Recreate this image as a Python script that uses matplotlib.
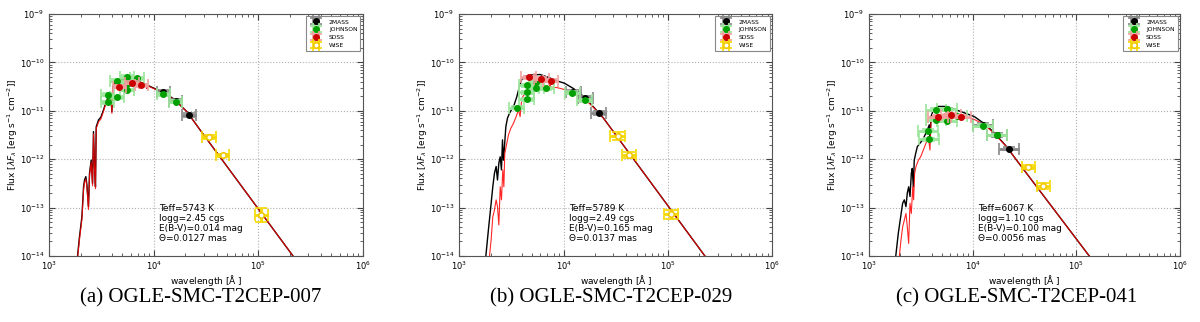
import numpy as np
import matplotlib.pyplot as plt

plt.rcParams['font.family'] = ['DejaVu Sans']
plt.rcParams['mathtext.fontset'] = 'dejavusans'

# ---- model SEDs: log10(wavelength [A]) and log10(flux) ----
a_wl = [3.270, 3.289, 3.312, 3.328, 3.337, 3.350, 3.360, 3.375, 3.385, 3.401, 3.414,
        3.423, 3.433, 3.442, 3.449, 3.471, 3.494, 3.519, 3.541, 3.567, 3.589, 3.599,
        3.608, 3.631, 3.679, 3.742, 3.822, 3.886, 3.930, 3.934, 3.938, 4.008, 4.094,
        4.190, 4.318, 4.445, 5.333]
a_blk = [-14.01, -13.60, -13.19, -12.57, -12.43, -12.36, -12.53, -12.98, -12.29, -12.02, -12.50,
         -11.43, -12.15, -12.57, -11.33, -11.19, -11.13, -10.98, -10.83, -10.71, -10.64, -11.02,
         -10.50, -10.40, -10.35, -10.34, -10.37, -10.42, -10.46, -10.53, -10.47, -10.54, -10.63,
         -10.75, -11.02, -11.40, -14.00]
a_red = [-14.05, -13.66, -13.25, -12.63, -12.48, -12.41, -12.58, -13.04, -12.34, -12.06, -12.55,
         -11.48, -12.19, -12.61, -11.37, -11.23, -11.17, -11.01, -10.86, -10.74, -10.67, -11.05,
         -10.53, -10.42, -10.37, -10.36, -10.38, -10.43, -10.47, -10.54, -10.48, -10.55, -10.64,
         -10.76, -11.02, -11.40, -14.00]

b_wl_blk = [3.254, 3.279, 3.302, 3.321, 3.337, 3.353, 3.366, 3.379, 3.392, 3.404, 3.414,
            3.423, 3.433, 3.446, 3.462, 3.481, 3.503, 3.525, 3.551, 3.576, 3.599, 3.631,
            3.694, 3.774, 3.854, 3.934, 4.008, 4.094, 4.190, 4.286, 4.381, 5.354]
b_blk = [-14.01, -13.46, -12.98, -12.57, -12.29, -12.15, -12.43, -12.08, -11.95, -12.22, -11.60,
         -12.02, -11.74, -11.33, -11.15, -11.05, -10.97, -10.88, -10.71, -10.50, -10.35, -10.28,
         -10.26, -10.25, -10.31, -10.38, -10.43, -10.54, -10.70, -10.92, -11.15, -14.00]
b_wl_red = [3.289, 3.305, 3.321, 3.334, 3.353, 3.366, 3.379, 3.392, 3.404, 3.417, 3.427,
            3.436, 3.449, 3.471, 3.494, 3.519, 3.545, 3.567, 3.583, 3.599, 3.631, 3.694,
            3.774, 3.838, 3.866, 3.870, 3.874, 3.934, 4.008, 4.094, 4.190, 4.286, 4.381, 5.354]
b_red = [-14.01, -13.67, -13.19, -13.08, -12.84, -12.98, -13.36, -12.57, -12.84, -12.22, -12.57,
         -11.88, -11.74, -11.50, -11.36, -11.26, -11.12, -10.98, -11.12, -10.74, -10.64, -10.56,
         -10.50, -10.52, -10.51, -10.44, -10.51, -10.52, -10.56, -10.63, -10.73, -10.93, -11.15, -14.00]

c_wl_blk = [3.255, 3.280, 3.303, 3.322, 3.338, 3.354, 3.367, 3.380, 3.393, 3.406, 3.415,
            3.425, 3.434, 3.448, 3.464, 3.489, 3.515, 3.538, 3.560, 3.579, 3.586, 3.596,
            3.612, 3.634, 3.666, 3.747, 3.827, 3.940, 4.014, 4.100, 4.197, 4.325, 4.422, 5.124]
c_blk = [-14.01, -13.53, -13.19, -12.91, -12.84, -12.98, -12.70, -12.57, -12.77, -12.29, -12.19,
         -12.57, -12.02, -11.88, -11.74, -11.67, -11.60, -11.50, -11.40, -11.29, -11.60, -11.12,
         -11.02, -10.95, -10.91, -10.91, -10.97, -11.06, -11.12, -11.25, -11.43, -11.74, -12.02, -14.00]
c_wl_red = [3.290, 3.306, 3.322, 3.338, 3.354, 3.367, 3.380, 3.393, 3.406, 3.419, 3.428,
            3.438, 3.451, 3.474, 3.496, 3.522, 3.547, 3.570, 3.586, 3.596, 3.618, 3.666,
            3.747, 3.827, 3.940, 4.014, 4.100, 4.197, 4.325, 4.422, 5.124]
c_red = [-14.01, -13.67, -13.40, -13.26, -13.12, -13.40, -13.74, -12.91, -13.12, -12.57, -12.84,
         -12.29, -12.15, -12.02, -11.95, -11.81, -11.67, -11.53, -11.81, -11.19, -11.11, -11.09,
         -11.06, -11.09, -11.12, -11.18, -11.27, -11.45, -11.74, -12.02, -14.00]

# ---- photometry: log10(wavelength), log10(flux) ----
a_2mass_wl = [4.092, 4.210, 4.337]
a_2mass_f = [-10.62, -10.79, -11.09]
a_john_wl = [3.560, 3.560, 3.648, 3.648, 3.742, 3.742, 3.742, 3.838, 4.092, 4.210]
a_john_f = [-10.67, -10.82, -10.38, -10.72, -10.30, -10.45, -10.57, -10.33, -10.66, -10.81]
a_sdss_wl = [3.669, 3.790, 3.882]
a_sdss_f = [-10.50, -10.42, -10.47]
a_wise_wl = [4.528, 4.659, 5.031]
a_wise_f = [-11.54, -11.92, -13.15]
a_wise_ferr = [0.04, 0.03, 0.15]

b_2mass_wl = [4.092, 4.205, 4.338]
b_2mass_f = [-10.62, -10.73, -11.05]
b_john_wl = [3.552, 3.645, 3.645, 3.645, 3.737, 3.737, 3.833, 4.084, 4.200]
b_john_f = [-10.94, -10.47, -10.62, -10.76, -10.41, -10.52, -10.535, -10.63, -10.78]
b_sdss_wl = [3.667, 3.785, 3.877]
b_sdss_f = [-10.31, -10.34, -10.38]
b_wise_wl = [4.517, 4.628, 5.032]
b_wise_f = [-11.52, -11.91, -13.14]
b_wise_ferr = [0.075, 0.06, 0.10]

c_2mass_wl = [4.095, 4.230, 4.351]
c_2mass_f = [-11.30, -11.50, -11.78]
c_john_wl = [3.563, 3.579, 3.648, 3.648, 3.747, 3.747, 3.843, 4.095, 4.230]
c_john_f = [-11.41, -11.59, -10.98, -11.19, -10.97, -11.21, -11.11, -11.31, -11.50]
c_sdss_wl = [3.665, 3.790, 3.885]
c_sdss_f = [-11.12, -11.08, -11.12]
c_wise_wl = [4.535, 4.680]
c_wise_f = [-12.155, -12.55]
c_wise_ferr = [0.04, 0.06]

# half-width of the horizontal bars, in dex
xhw = {'a': 0.064, 'b': 0.072, 'c': 0.097}
xhw_wise = {'a': 0.064, 'b': 0.068, 'c': 0.064}

params = {
    'a': ['Teff=5743 K', 'logg=2.45 cgs', 'E(B-V)=0.014 mag', '\u0398=0.0127 mas'],
    'b': ['Teff=5789 K', 'logg=2.49 cgs', 'E(B-V)=0.165 mag', '\u0398=0.0137 mas'],
    'c': ['Teff=6067 K', 'logg=1.10 cgs', 'E(B-V)=0.100 mag', '\u0398=0.0056 mas'],
}
captions = {'a': '(a) OGLE-SMC-T2CEP-007',
            'b': '(b) OGLE-SMC-T2CEP-029',
            'c': '(c) OGLE-SMC-T2CEP-041'}

panels = {
    'a': dict(wb=a_wl, fb=a_blk, wr=a_wl, fr=a_red,
              m=(a_2mass_wl, a_2mass_f), j=(a_john_wl, a_john_f),
              s=(a_sdss_wl, a_sdss_f), w=(a_wise_wl, a_wise_f, a_wise_ferr)),
    'b': dict(wb=b_wl_blk, fb=b_blk, wr=b_wl_red, fr=b_red,
              m=(b_2mass_wl, b_2mass_f), j=(b_john_wl, b_john_f),
              s=(b_sdss_wl, b_sdss_f), w=(b_wise_wl, b_wise_f, b_wise_ferr)),
    'c': dict(wb=c_wl_blk, fb=c_blk, wr=c_wl_red, fr=c_red,
              m=(c_2mass_wl, c_2mass_f), j=(c_john_wl, c_john_f),
              s=(c_sdss_wl, c_sdss_f), w=(c_wise_wl, c_wise_f, c_wise_ferr)),
}

W, H = 1200, 322
# axes boxes in pixels: left, right, top, bottom
boxes = {'a': (49.3, 362.7, 14, 256), 'b': (459.3, 772.3, 14, 256), 'c': (869.3, 1180, 14, 256)}
cap_x = {'a': 201, 'b': 611, 'c': 1017}


def errs(lw, lf, dx, dy):
    lw = np.asarray(lw, float)
    lf = np.asarray(lf, float)
    x = 10 ** lw
    y = 10 ** lf
    dx = np.broadcast_to(dx, lw.shape)
    dy = np.broadcast_to(dy, lf.shape)
    xe = [x - 10 ** (lw - dx), 10 ** (lw + dx) - x]
    ye = [y - 10 ** (lf - dy), 10 ** (lf + dy) - y]
    return x, y, xe, ye


fig = plt.figure(figsize=(W / 100, H / 100), dpi=100)

for key in ['a', 'b', 'c']:
    l, r, t, b = boxes[key]
    ax = fig.add_axes([l / W, 1 - b / H, (r - l) / W, (b - t) / H])
    p = panels[key]

    ax.plot(10 ** np.array(p['wb']), 10 ** np.array(p['fb']), color='black', lw=1.0, zorder=2)
    ax.plot(10 ** np.array(p['wr']), 10 ** np.array(p['fr']), color='red', lw=0.8, alpha=0.85, zorder=2)

    x, y, xe, ye = errs(*p['m'], xhw[key], 0.04)
    ax.errorbar(x, y, xerr=xe, yerr=ye, fmt='o', color='black', ms=4,
                ecolor='#888888', elinewidth=2, capsize=4, capthick=1.2,
                label='2MASS', zorder=3)
    x, y, xe, ye = errs(*p['j'], xhw[key], 0.03)
    ax.errorbar(x, y, xerr=xe, yerr=ye, fmt='o', color='#00a000', ms=4,
                ecolor='#9be59b', elinewidth=2, capsize=4, capthick=1.2,
                label='JOHNSON', zorder=4)
    x, y, xe, ye = errs(*p['s'], xhw[key], 0.03)
    ax.errorbar(x, y, xerr=xe, yerr=ye, fmt='o', color='#cc0000', ms=4,
                ecolor='#f2a0a0', elinewidth=2, capsize=4, capthick=1.2,
                label='SDSS', zorder=5)
    wl, wf, wfe = p['w']
    x, y, xe, ye = errs(wl, wf, xhw_wise[key], wfe)
    ax.errorbar(x, y, xerr=xe, yerr=ye, fmt='o', color='#f5d000', mfc='white',
                mec='#f0c800', mew=1.2, ms=4, ecolor='#f5d800', elinewidth=2,
                capsize=4, capthick=1.5, label='WISE', zorder=6)

    ax.set_xscale('log')
    ax.set_yscale('log')
    ax.set_xlim(1e3, 1e6)
    ax.set_ylim(1e-14, 1e-9)
    ax.grid(True, which='major', ls=':', color='#b0b0b0', lw=0.8)
    ax.tick_params(which='both', direction='in', top=True, right=True, labelsize=6,
                   color='#444444')
    ax.tick_params(which='major', length=4)
    ax.tick_params(which='minor', length=2)
    ax.tick_params(axis='x', pad=2.5)
    for s in ax.spines.values():
        s.set_color('#555555')
    ax.set_xlabel('wavelength [$\\mathrm{\\AA}$ ]', fontsize=6.5, labelpad=1)
    ax.set_ylabel('Flux [$\\lambda F_\\lambda$ [erg s$^{-1}$ cm$^{-2}$]]', fontsize=6.5, labelpad=0)

    ax.text(0.35, 0.215, '\n'.join(params[key]), transform=ax.transAxes,
            fontsize=6.5, va='top', ha='left', linespacing=1.15)

    leg = ax.legend(loc='upper right', fontsize=4.3, numpoints=1, handlelength=2.6,
                    borderpad=0.5, labelspacing=0.45, fancybox=False, framealpha=1,
                    borderaxespad=0.4)
    leg.get_frame().set_edgecolor('#888888')
    leg.get_frame().set_linewidth(0.8)

    fig.text(cap_x[key] / W, 1 - 298 / H, captions[key], ha='center', va='center',
             fontsize=15, family='Liberation Serif')

fig.savefig('out.png', dpi=100)
